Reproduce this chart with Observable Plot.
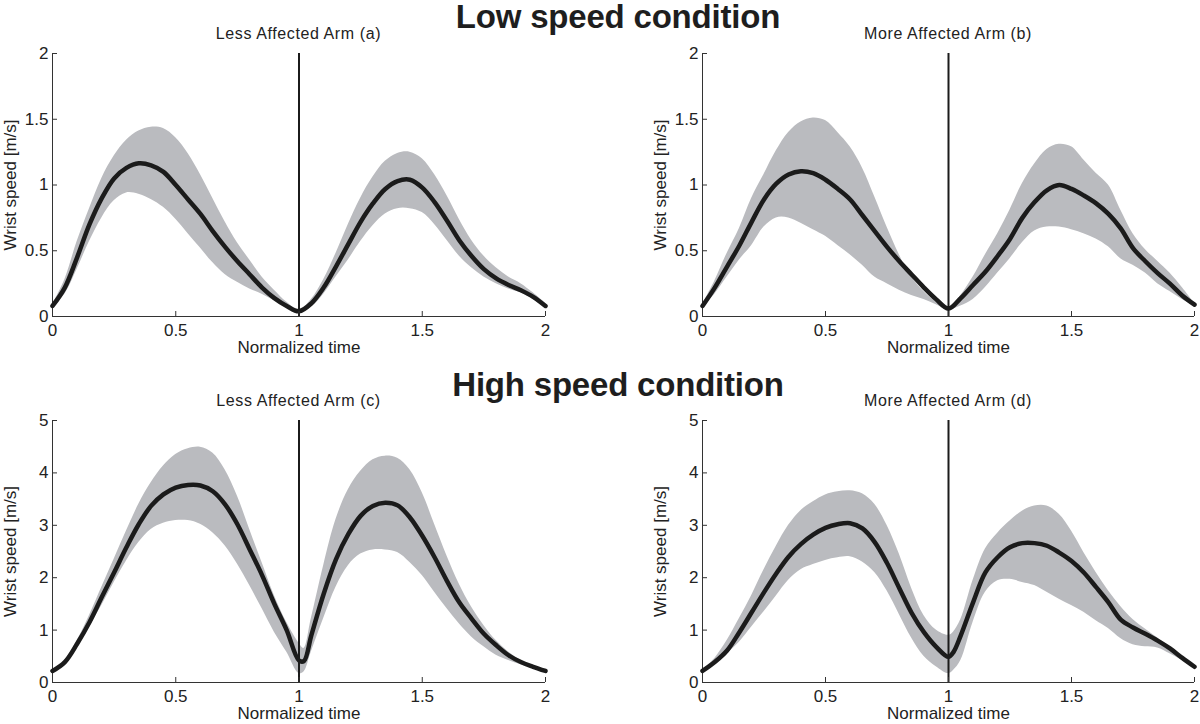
<!DOCTYPE html>
<html>
<head>
<meta charset="utf-8">
<script src="https://cdn.jsdelivr.net/npm/d3@7"></script>
<script src="https://cdn.jsdelivr.net/npm/@observablehq/plot@0.6"></script>
<style>
  html, body { margin: 0; padding: 0; background: #fff; overflow: hidden; }
  #root { position: relative; width: 1200px; height: 724px; font-family: "Liberation Sans", Arial, sans-serif; color: #222; }
  .title { position: absolute; font-weight: bold; font-size: 33px; line-height: 33px; letter-spacing: -0.2px; white-space: nowrap; transform: translateX(-50%); color: #1e1e1e; }
  .sub { position: absolute; font-size: 16px; line-height: 16px; letter-spacing: 0.6px; white-space: nowrap; transform: translateX(-50%); color: #222; }
  .panel { position: absolute; }
</style>
</head>
<body>
<div id="root"></div>
<script>
// ---------- data ----------
const conditionTitles = ["Low speed condition", "High speed condition"];
const panelTitles = ["Less Affected Arm (a)", "More Affected Arm (b)", "Less Affected Arm (c)", "More Affected Arm (d)"];
const xLabel = "Normalized time";
const yLabel = "Wrist speed [m/s]";
const xTicks = [0, 0.5, 1, 1.5, 2];
const yTicksLow = [0, 0.5, 1, 1.5, 2];
const yTicksHigh = [0, 1, 2, 3, 4, 5];
const dividerTime = [1];

const timeLow = [0,0.05,0.1,0.15,0.2,0.25,0.3,0.35,0.4,0.45,0.5,0.55,0.6,0.65,0.7,0.75,0.8,0.85,0.9,0.95,1.0,
                 1.05,1.1,1.15,1.2,1.25,1.3,1.35,1.4,1.45,1.5,1.55,1.6,1.65,1.7,1.75,1.8,1.85,1.9,1.95,2.0];
const timeHigh = [0,0.05,0.1,0.15,0.2,0.25,0.3,0.35,0.4,0.45,0.5,0.55,0.6,0.65,0.7,0.75,0.8,0.85,0.9,0.95,1.0,1.02,
                  1.05,1.1,1.15,1.2,1.25,1.3,1.35,1.4,1.45,1.5,1.55,1.6,1.65,1.7,1.75,1.8,1.85,1.9,1.95,2.0];

// (a) Less affected arm, low speed
const meanA  = [0.08,0.22,0.45,0.7,0.9,1.05,1.13,1.165,1.15,1.1,1.0,0.89,0.78,0.65,0.53,0.42,0.32,0.22,0.14,0.08,0.04,
                0.1,0.22,0.38,0.55,0.72,0.86,0.97,1.03,1.04,0.98,0.87,0.73,0.58,0.46,0.36,0.29,0.24,0.2,0.15,0.08];
const upperA = [0.09,0.28,0.57,0.82,1.05,1.22,1.34,1.41,1.44,1.43,1.36,1.24,1.08,0.9,0.72,0.56,0.43,0.3,0.2,0.11,0.05,
                0.13,0.28,0.48,0.7,0.9,1.06,1.18,1.24,1.25,1.2,1.08,0.92,0.74,0.58,0.46,0.37,0.3,0.25,0.18,0.1];
const lowerA = [0.07,0.17,0.36,0.57,0.75,0.88,0.94,0.93,0.89,0.83,0.74,0.63,0.52,0.41,0.32,0.26,0.21,0.17,0.12,0.08,0.03,
                0.07,0.17,0.3,0.43,0.57,0.69,0.78,0.82,0.82,0.79,0.7,0.58,0.46,0.37,0.3,0.25,0.21,0.18,0.13,0.07];

// (b) More affected arm, low speed
const meanB  = [0.08,0.22,0.38,0.54,0.72,0.89,1.01,1.08,1.105,1.09,1.04,0.97,0.89,0.77,0.65,0.53,0.42,0.32,0.22,0.13,0.06,
                0.14,0.24,0.34,0.46,0.59,0.75,0.87,0.96,1.0,0.97,0.92,0.86,0.78,0.67,0.52,0.42,0.33,0.25,0.16,0.09];
const upperB = [0.09,0.27,0.48,0.67,0.9,1.08,1.26,1.4,1.48,1.51,1.49,1.4,1.29,1.13,0.91,0.68,0.47,0.3,0.19,0.11,0.06,
                0.16,0.3,0.47,0.63,0.81,1.01,1.16,1.27,1.31,1.29,1.19,1.09,1.0,0.81,0.63,0.51,0.42,0.33,0.22,0.1];
const lowerB = [0.07,0.17,0.3,0.43,0.54,0.68,0.75,0.75,0.71,0.66,0.61,0.54,0.47,0.39,0.3,0.25,0.2,0.16,0.13,0.09,0.05,
                0.08,0.13,0.22,0.33,0.44,0.56,0.65,0.68,0.68,0.66,0.63,0.59,0.53,0.44,0.39,0.33,0.25,0.19,0.13,0.08];

// (c) Less affected arm, high speed
const meanC  = [0.22,0.39,0.74,1.15,1.63,2.1,2.58,3.02,3.37,3.59,3.72,3.77,3.76,3.65,3.4,3.02,2.54,2.05,1.5,1.0,0.42,0.41,
                0.9,1.69,2.35,2.83,3.18,3.37,3.43,3.38,3.15,2.8,2.39,1.94,1.53,1.22,0.93,0.71,0.52,0.39,0.3,0.22];
const upperC = [0.22,0.42,0.8,1.28,1.82,2.35,2.89,3.4,3.81,4.13,4.35,4.46,4.49,4.38,4.06,3.56,2.92,2.29,1.66,1.15,0.75,0.65,
                1.22,2.23,3.11,3.68,4.03,4.25,4.32,4.28,4.06,3.62,3.02,2.42,1.88,1.44,1.09,0.8,0.58,0.42,0.3,0.23];
const lowerC = [0.2,0.36,0.68,1.06,1.47,1.91,2.32,2.67,2.92,3.04,3.09,3.09,3.02,2.86,2.61,2.26,1.85,1.41,0.96,0.58,0.17,0.2,
                0.58,1.22,1.82,2.23,2.45,2.53,2.53,2.48,2.29,2.04,1.72,1.41,1.12,0.87,0.68,0.52,0.42,0.34,0.27,0.2];

// (d) More affected arm, high speed
const meanD  = [0.22,0.39,0.61,0.96,1.34,1.72,2.08,2.4,2.64,2.82,2.95,3.02,3.04,2.94,2.68,2.28,1.8,1.33,0.96,0.68,0.49,0.58,
                0.9,1.53,2.1,2.39,2.58,2.66,2.66,2.61,2.48,2.32,2.1,1.82,1.53,1.2,1.05,0.93,0.8,0.65,0.47,0.3];
const upperD = [0.23,0.46,0.8,1.22,1.66,2.15,2.6,3.0,3.28,3.45,3.58,3.64,3.66,3.6,3.4,3.0,2.45,1.8,1.28,1.0,0.9,0.96,
                1.2,1.95,2.55,2.85,3.08,3.27,3.37,3.37,3.21,2.89,2.48,2.1,1.75,1.45,1.2,1.02,0.85,0.68,0.5,0.31];
const lowerD = [0.21,0.36,0.55,0.77,1.06,1.35,1.65,1.95,2.15,2.25,2.33,2.38,2.4,2.3,2.1,1.75,1.3,0.85,0.5,0.3,0.17,0.23,
                0.42,1.15,1.72,1.94,1.97,1.91,1.85,1.72,1.59,1.47,1.34,1.18,1.03,0.84,0.72,0.68,0.66,0.55,0.42,0.27];

// ---------- drawing ----------
const root = document.getElementById("root");
const bandColor = "#babbbf";
const lineColor = "#1b1b1b";
const axisColor = "#333";
const fontStack = "'Liberation Sans', Arial, sans-serif";

function makePanel(time, mean, upper, lower, yDomain, yTicks, opts) {
  const rows = time.map((t, i) => ({t, mean: mean[i], upper: upper[i], lower: lower[i]}));
  return Plot.plot({
    width: opts.width,
    height: opts.height,
    marginLeft: opts.marginLeft,
    marginRight: opts.marginRight,
    marginTop: opts.marginTop,
    marginBottom: opts.marginBottom,
    style: {fontFamily: fontStack, fontSize: "17px", color: "#222", background: "transparent", overflow: "visible"},
    x: {domain: [0, 2]},
    y: {domain: yDomain},
    marks: [
      Plot.areaY(rows, {x: "t", y1: "lower", y2: "upper", fill: bandColor, curve: "catmull-rom"}),
      Plot.ruleX([0], {stroke: axisColor, strokeWidth: 1}),
      Plot.ruleY([yDomain[0]], {stroke: axisColor, strokeWidth: 1}),
      Plot.ruleX(dividerTime, {stroke: lineColor, strokeWidth: 2}),
      Plot.lineY(rows, {x: "t", y: "mean", stroke: lineColor, strokeWidth: 4.5, curve: "catmull-rom", strokeLinejoin: "round"}),
      Plot.axisX({ticks: xTicks, tickSize: -5, tickPadding: 12, tickFormat: d => String(d), stroke: axisColor,
                  label: xLabel, labelAnchor: "center", labelArrow: "none", labelOffset: 36}),
      Plot.axisY({ticks: yTicks, tickSize: -5, tickPadding: 9, tickFormat: d => String(d), stroke: axisColor,
                  label: yLabel, labelAnchor: "center", labelArrow: "none", labelOffset: 49})
    ]
  });
}

function place(node, left, top) {
  const wrap = document.createElement("div");
  wrap.className = "panel";
  wrap.style.left = left + "px";
  wrap.style.top = top + "px";
  wrap.appendChild(node);
  root.appendChild(wrap);
}

function addText(cls, text, centerX, top) {
  const d = document.createElement("div");
  d.className = cls;
  d.textContent = text;
  d.style.left = centerX + "px";
  d.style.top = top + "px";
  root.appendChild(d);
}

const leftOpts  = {width: 600, marginLeft: 52, marginRight: 55, marginTop: 13, marginBottom: 42};
const rightOpts = {width: 550, marginLeft: 52, marginRight: 6,  marginTop: 13, marginBottom: 42};

place(makePanel(timeLow, meanA, upperA, lowerA, [0, 2], yTicksLow, {...leftOpts, height: 318}), 0, 40);
place(makePanel(timeLow, meanB, upperB, lowerB, [0, 2], yTicksLow, {...rightOpts, height: 318}), 650, 40);
place(makePanel(timeHigh, meanC, upperC, lowerC, [0, 5], yTicksHigh, {...leftOpts, height: 317}), 0, 407);
place(makePanel(timeHigh, meanD, upperD, lowerD, [0, 5], yTicksHigh, {...rightOpts, height: 317}), 650, 407);

addText("title", conditionTitles[0], 618, 0);
addText("title", conditionTitles[1], 618, 368);
addText("sub", panelTitles[0], 298.5, 25.5);
addText("sub", panelTitles[1], 948, 25.5);
addText("sub", panelTitles[2], 298.5, 392.5);
addText("sub", panelTitles[3], 948, 392.5);
</script>
</body>
</html>
